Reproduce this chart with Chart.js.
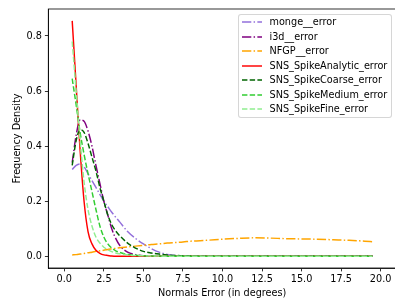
<!DOCTYPE html>
<html><head><meta charset="utf-8">
<script src="https://cdn.jsdelivr.net/npm/chart.js@4.4.1/dist/chart.umd.min.js"></script>
<style>
html,body{margin:0;padding:0;background:#fff;overflow:hidden;}
#wrap{position:relative;width:395px;height:304px;overflow:hidden;}
#c{position:absolute;left:0;top:0;}
#legend{position:absolute;left:237.5px;top:14px;width:154px;height:104px;border:1px solid rgba(204,204,204,0.8);border-radius:3px;background:rgba(255,255,255,0.8);font-family:"DejaVu Sans";font-size:9.7px;color:#000;box-sizing:border-box;}
.row{position:absolute;left:0;height:12px;line-height:12px;white-space:nowrap;}
.row svg{position:absolute;left:3px;top:0;}
.row span{position:absolute;left:31px;top:0;}
</style>
</head><body>
<div id="wrap"><canvas id="c" width="396" height="304"></canvas><div id="legend"></div></div>
<script>
// ---- data ----
const NAMES = ['monge__error','i3d__error','NFGP__error','SNS_SpikeAnalytic_error','SNS_SpikeCoarse_error','SNS_SpikeMedium_error','SNS_SpikeFine_error'];
const XS = [0.5,0.75,1,1.25,1.5,1.75,2,2.25,2.5,2.75,3,3.25,3.5,4,4.5,5,5.5,6,6.5,7,7.5,8,9,10,11,12,13,14,15,16,17,18,19,19.5];
const MONGE   = [0.315,0.330,0.335,0.325,0.300,0.275,0.250,0.225,0.200,0.180,0.160,0.142,0.125,0.090,0.065,0.045,0.028,0.015,0.007,0.003,0.002,0.001,0,0,0,0,0,0,0,0,0,0,0,0];
const I3D     = [0.340,0.440,0.495,0.490,0.455,0.400,0.330,0.265,0.200,0.150,0.100,0.065,0.040,0.015,0.006,0.002,0.001,0,0,0,0,0,0,0,0,0,0,0,0,0,0,0,0,0];
const NFGP    = [0.005,0.006,0.008,0.010,0.013,0.015,0.018,0.020,0.022,0.025,0.027,0.029,0.031,0.034,0.037,0.040,0.043,0.045,0.048,0.050,0.052,0.055,0.058,0.062,0.065,0.067,0.066,0.064,0.063,0.062,0.060,0.058,0.055,0.053];
const ANALYTIC= [0.855,0.620,0.385,0.200,0.090,0.045,0.022,0.011,0.005,0.003,0.001,0,0,0,0,0,0,0,0,0,0,0,0,0,0,0,0,0,0,0,0,0,0,0];
const COARSE  = [0.330,0.420,0.460,0.450,0.410,0.360,0.310,0.250,0.200,0.150,0.115,0.092,0.075,0.048,0.030,0.018,0.012,0.008,0.005,0.003,0.002,0.001,0,0,0,0,0,0,0,0,0,0,0,0];
const MEDIUM  = [0.645,0.550,0.450,0.370,0.300,0.235,0.170,0.110,0.070,0.045,0.030,0.020,0.014,0.007,0.004,0.002,0.001,0.001,0,0,0,0,0,0,0,0,0,0,0,0,0,0,0,0];
const FINE    = [0.780,0.600,0.420,0.270,0.170,0.110,0.070,0.048,0.033,0.024,0.017,0.012,0.009,0.005,0.003,0.002,0.001,0.001,0,0,0,0,0,0,0,0,0,0,0,0,0,0,0,0];
const SERIES = [MONGE,I3D,NFGP,ANALYTIC,COARSE,MEDIUM,FINE];
const X_TICKS = [0,2.5,5,7.5,10,12.5,15,17.5,20];
const Y_TICKS = [0,0.2,0.4,0.6,0.8];

// ---- styles ----
const COLORS = ['#9370DB','#800080','#FFA500','#FF0000','#006400','#32CD32','#90EE90'];
const DASHDOT = [9.3,2.3,1.45,2.3], DASHED = [5.4,2.3];
const DASHES = [DASHDOT,DASHDOT,DASHDOT,[],DASHED,DASHED,DASHED];
const LW = 1.46;
const FONT = {family:'DejaVu Sans', size:9.7};

const datasets = NAMES.map((n,i)=>({
  label:n,
  data: XS.map((x,j)=>({x:x,y:SERIES[i][j]})),
  borderColor: COLORS[i],
  borderWidth: LW,
  borderDash: DASHES[i],
  borderCapStyle: 'butt',
  pointRadius: 0,
  fill:false,
  cubicInterpolationMode:'monotone',
  order: NAMES.length - i
}));

const frame = {
  id:'frame',
  afterDatasetsDraw(chart){
    const a = chart.chartArea, c = chart.ctx;
    c.save(); c.strokeStyle='#000'; c.lineWidth=0.8;
    c.strokeRect(a.left, a.top, a.right-a.left, a.bottom-a.top);
    c.restore();
  }
};

new Chart(document.getElementById('c').getContext('2d'), {
  type:'line',
  data:{datasets},
  options:{
    responsive:false, animation:false, maintainAspectRatio:false,
    layout:{padding:{top:9,right:0,left:0,bottom:0}},
    plugins:{legend:{display:false}, tooltip:{enabled:false}},
    scales:{
      x:{type:'linear', min:-1.011, max:20.97,
        afterBuildTicks:s=>{s.ticks = X_TICKS.map(v=>({value:v}));},
        afterFit:s=>{s.height = 36;},
        ticks:{callback:v=>Number(v).toFixed(1), color:'#000', font:FONT, padding:2, maxRotation:0, autoSkip:false},
        grid:{drawOnChartArea:false, drawTicks:true, tickLength:3.4, color:'#000', lineWidth:0.8},
        border:{display:true, color:'#000', width:0.8},
        title:{display:true, text:'Normals Error (in degrees)', color:'#000', font:FONT, padding:{top:0,bottom:5.2}}
      },
      y:{type:'linear', min:-0.0425, max:0.898,
        afterBuildTicks:s=>{s.ticks = Y_TICKS.map(v=>({value:v}));},
        afterFit:s=>{s.width = 48.3;},
        ticks:{callback:v=>Number(v).toFixed(1), color:'#000', font:FONT, padding:3, autoSkip:false},
        grid:{drawOnChartArea:false, drawTicks:true, tickLength:3.4, color:'#000', lineWidth:0.8},
        border:{display:true, color:'#000', width:0.8},
        title:{display:true, text:'Frequency Density', color:'#000', font:FONT, padding:{top:11.5,bottom:0}}
      }
    }
  },
  plugins:[frame]
});

// ---- legend (HTML, real text) ----
const leg = document.getElementById('legend');
NAMES.forEach((n,i)=>{
  const row = document.createElement('div');
  row.className='row';
  row.style.top = (8.3 + i*14.45 - 6 - 1) + 'px';
  row.style.width = '100%';
  const svgNS='http://www.w3.org/2000/svg';
  const svg = document.createElementNS(svgNS,'svg');
  svg.setAttribute('width','20'); svg.setAttribute('height','12');
  const ln = document.createElementNS(svgNS,'line');
  ln.setAttribute('x1','0'); ln.setAttribute('x2','20');
  ln.setAttribute('y1','6'); ln.setAttribute('y2','6');
  ln.setAttribute('stroke',COLORS[i]); ln.setAttribute('stroke-width',LW);
  if (DASHES[i].length) ln.setAttribute('stroke-dasharray',DASHES[i].join(' '));
  svg.appendChild(ln);
  const sp = document.createElement('span'); sp.textContent = n;
  row.appendChild(svg); row.appendChild(sp);
  leg.appendChild(row);
});
</script>
</body></html>
